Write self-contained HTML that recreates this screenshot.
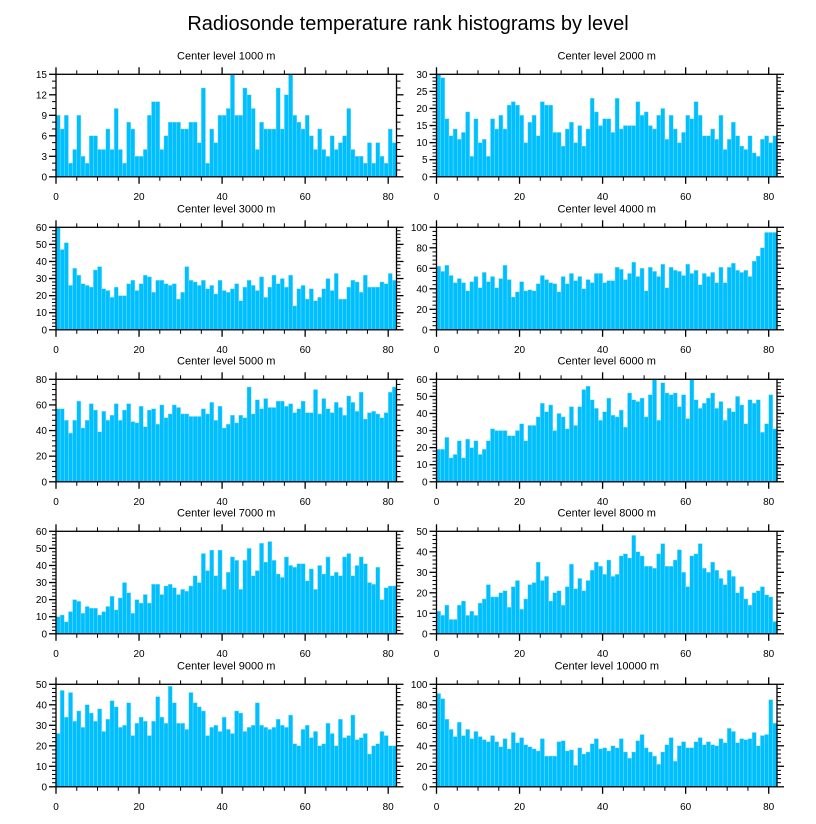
<!DOCTYPE html>
<html><head><meta charset="utf-8">
<style>
html,body{margin:0;padding:0;background:#fff;}
svg{display:block;font-family:"Liberation Sans",Arial,sans-serif;}
</style></head>
<body>
<svg id="chart" width="816" height="824" viewBox="0 0 816 824" xmlns="http://www.w3.org/2000/svg">
<text x="408" y="30" font-size="20" text-anchor="middle" fill="#000">Radiosonde temperature rank histograms by level</text>
</svg>
<script>
const levels = ["1000","2000","3000","4000","5000","6000","7000","8000","9000","10000"];
const yMax = [15,30,60,100,80,60,60,50,50,100];
const yStep = [3,5,10,20,20,10,10,10,10,20];
const xTicks = [0,20,40,60,80];
const h1000 = [9,7,9,2,4,9,3,2,6,6,4,4,7,4,10,4,2,8,7,3,3,4,9,11,11,4,6,8,8,8,7,7,8,8,5,13,2,7,5,9,9,10,15,9,9,13,12,10,4,8,7,7,7,13,7,12,15,9,8,7,9,6,4,7,4,3,6,4,5,6,10,4,3,3,2,5,2,5,3,2,7,5];
const h2000 = [30,29,17,12,14,11,13,19,6,17,10,11,6,17,14,18,14,21,22,21,18,10,16,18,12,22,21,21,13,13,9,14,16,10,15,9,14,23,19,15,17,17,13,23,14,15,15,15,22,18,19,15,14,18,20,11,18,14,10,13,18,17,22,18,12,12,14,11,18,8,11,16,12,9,8,12,7,6,11,12,10,12];
const h3000 = [60,47,51,26,36,32,27,26,25,35,37,24,23,19,25,20,20,27,29,23,27,32,31,22,29,29,27,26,27,18,22,37,29,28,26,29,24,26,21,29,23,22,24,27,17,25,29,26,23,31,19,25,32,27,30,25,32,14,24,26,18,24,17,19,24,30,23,33,18,18,25,29,28,22,32,25,25,25,28,27,33,29];
const h4000 = [62,57,63,53,46,50,46,38,47,52,41,56,47,52,41,50,63,49,32,37,47,38,39,38,45,53,49,46,45,37,52,45,55,48,52,40,49,46,55,55,46,48,48,61,59,49,55,66,52,60,38,61,57,52,64,41,61,58,57,53,64,55,58,44,55,52,56,46,61,46,61,65,58,56,58,52,67,72,80,95,95,95];
const h5000 = [57,57,48,38,48,63,42,48,61,56,39,55,48,52,61,48,56,61,47,46,59,43,56,57,45,60,50,53,60,58,53,53,51,51,51,57,53,62,48,59,42,45,52,46,52,50,74,53,64,57,65,58,58,63,63,59,61,54,57,63,54,54,72,53,65,57,54,62,58,52,67,62,55,70,49,54,55,53,50,54,70,74];
const h6000 = [19,19,26,14,16,24,14,25,20,24,16,19,24,31,30,30,30,27,27,30,34,24,33,33,38,46,41,45,30,40,38,31,44,33,44,54,56,48,43,36,41,49,39,38,42,32,52,48,47,49,38,51,60,36,58,52,51,52,44,51,37,60,48,43,46,49,52,43,47,36,43,41,50,45,34,48,46,48,29,34,51,31];
const h7000 = [10,11,7,13,20,19,12,16,15,15,11,13,16,22,14,21,30,24,12,20,18,23,18,29,29,23,28,29,27,23,26,25,28,34,30,47,37,49,34,49,26,36,45,43,26,43,50,34,37,53,42,54,43,35,33,45,40,39,41,41,31,38,26,40,35,45,34,36,34,45,47,34,40,45,41,30,29,39,20,27,28,28];
const h8000 = [11,9,14,7,7,14,16,9,11,9,15,17,24,18,18,20,21,13,23,26,12,17,24,25,35,26,28,16,20,21,14,23,34,22,27,21,26,31,35,33,29,36,28,29,38,39,37,48,40,38,33,33,32,39,44,33,33,36,41,30,23,38,39,44,32,30,35,31,27,24,31,28,20,23,17,14,20,21,23,19,18,6];
const h9000 = [26,47,34,46,32,37,29,40,36,32,38,27,33,42,39,29,30,41,25,31,34,32,25,32,44,34,31,49,41,31,31,28,46,41,39,37,25,29,30,27,34,28,26,37,36,27,29,30,41,30,29,28,29,33,30,29,35,21,20,28,30,24,27,20,21,31,26,20,33,24,25,35,23,24,26,16,20,21,27,25,20,20];
const h10000 = [91,86,66,56,49,63,50,56,47,54,49,46,44,50,44,39,47,37,53,43,48,41,39,37,35,47,30,30,30,44,45,35,36,21,38,32,34,42,47,37,38,35,40,38,47,34,28,34,45,51,38,34,30,22,34,41,48,25,40,44,38,38,44,48,41,44,41,40,47,43,57,54,43,47,46,47,53,40,50,51,85,62];
const series = [h1000,h2000,h3000,h4000,h5000,h6000,h7000,h8000,h9000,h10000];

const NS = "http://www.w3.org/2000/svg";
const svg = document.getElementById('chart');
function mk(tag, attrs, parent){
  const e = document.createElementNS(NS, tag);
  for (const k in attrs) e.setAttribute(k, attrs[k]);
  parent.appendChild(e);
  return e;
}
const colX = [56, 436.5];
const rowTop = [74.3, 227.3, 379.3, 531.3, 684.3];
const PW = 340.5, PH = 102.5, XMAX = 82;

series.forEach((data, p) => {
  const x0 = colX[p % 2], y0 = rowTop[Math.floor(p / 2)];
  const g = mk('g', {}, svg);
  
  
  const xs = v => x0 + v / XMAX * PW;
  const ys = v => y0 + PH - v / yMax[p] * PH;
  const t = mk('text', {x: x0 + PW / 2, y: y0 - 15, 'font-size': 11, 'text-anchor': 'middle', fill: '#000'}, g);
  
  
  t.textContent = 'Center level ' + levels[p] + ' m';
  data.forEach((v, i) => {
    const r = mk('rect', {x: xs(i), y: ys(v), width: xs(i + 1) - xs(i), height: ys(0) - ys(v), fill: '#00BFFF', stroke: '#8FE0FF', 'stroke-width': 0.4}, g);
    
    
  });
  const f = mk('rect', {x: x0, y: y0, width: PW, height: PH, fill: 'none', stroke: '#000', 'stroke-width': 1.3}, g);
  
  
  // x ticks
  for (let v = 0; v <= 80; v += 5) {
    const major = v % 20 === 0;
    const L = major ? 7 : 4;
    mk('line', {x1: xs(v), x2: xs(v), y1: y0 + PH, y2: y0 + PH + L, stroke: '#000', 'stroke-width': major ? 1.3 : 1}, g);
    mk('line', {x1: xs(v), x2: xs(v), y1: y0, y2: y0 - L, stroke: '#000', 'stroke-width': major ? 1.3 : 1}, g);
  }
  xTicks.forEach(v => {
    const tl = mk('text', {x: xs(v), y: y0 + PH + 23, 'font-size': 10, 'text-anchor': 'middle', fill: '#000'}, g);
    
    
    tl.textContent = v;
  });
  // y ticks
  const nMinor = yStep[p] === 3 ? 3 : 5;
  const minorStep = yStep[p] / nMinor;
  for (let k = 0; k * minorStep <= yMax[p] + 1e-9; k++) {
    const v = k * minorStep;
    const major = k % nMinor === 0;
    const L = major ? 7 : 4;
    mk('line', {x1: x0, x2: x0 - L, y1: ys(v), y2: ys(v), stroke: '#000', 'stroke-width': major ? 1.3 : 1}, g);
    mk('line', {x1: x0 + PW, x2: x0 + PW + L, y1: ys(v), y2: ys(v), stroke: '#000', 'stroke-width': major ? 1.3 : 1}, g);
    if (major) {
      const yl = mk('text', {x: x0 - 9, y: ys(v) + 3.5, 'font-size': 10, 'text-anchor': 'end', fill: '#000'}, g);
      
      
      yl.textContent = Math.round(v);
    }
  }
});
</script>
</body></html>
